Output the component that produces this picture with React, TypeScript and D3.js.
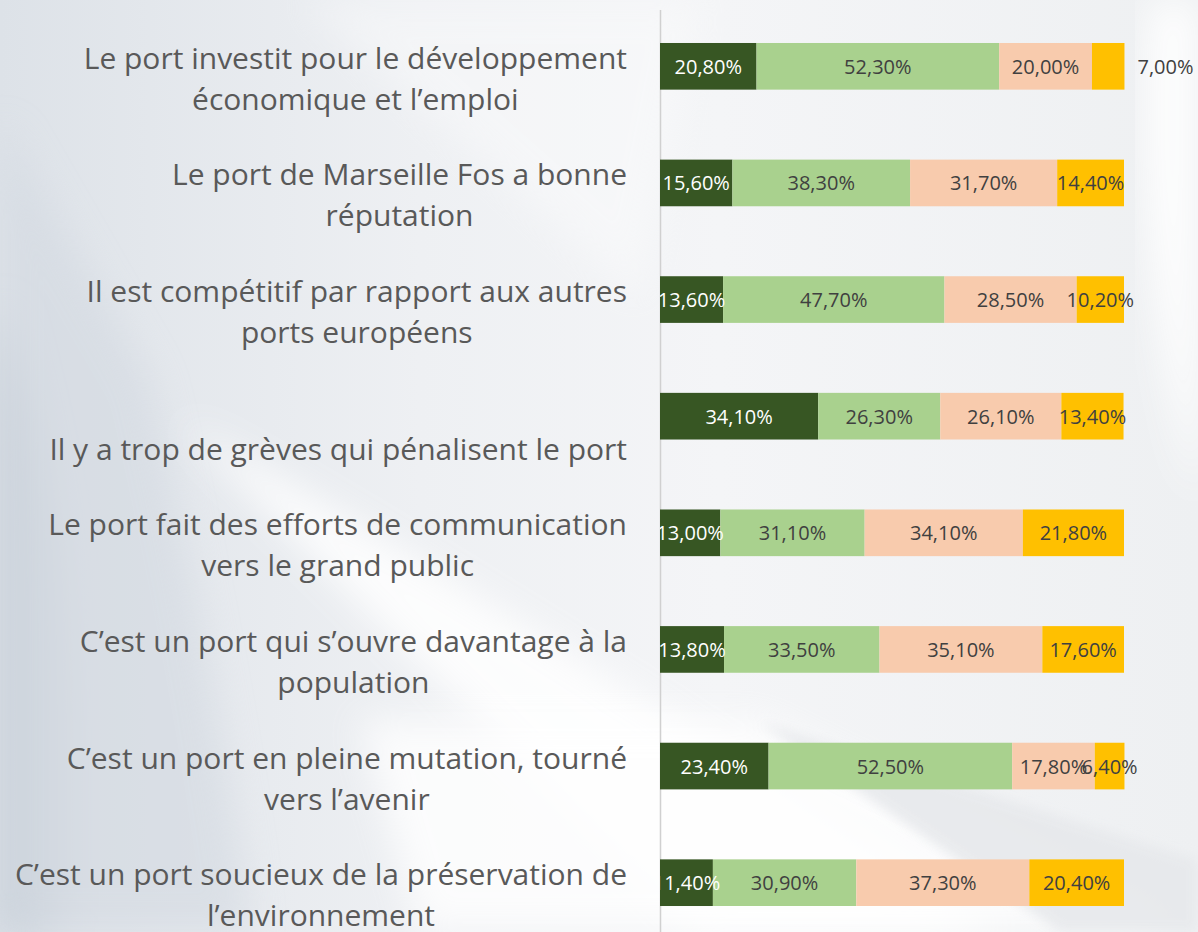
import React from "react";
import * as d3 from "d3";

const categories: string[][] = [
  ["Le port investit pour le développement", "économique et l’emploi"],
  ["Le port de Marseille Fos a bonne", "réputation"],
  ["Il est compétitif par rapport aux autres", "ports européens"],
  ["Il y a trop de grèves qui pénalisent le port"],
  ["Le port fait des efforts de communication", "vers le grand public"],
  ["C’est un port qui s’ouvre davantage à la", "population"],
  ["C’est un port en pleine mutation, tourné", "vers l’avenir"],
  ["C’est un port soucieux de la préservation de", "l’environnement"],
];

const seriesA = [20.8, 15.6, 13.6, 34.1, 13.0, 13.8, 23.4, 11.4];
const seriesB = [52.3, 38.3, 47.7, 26.3, 31.1, 33.5, 52.5, 30.9];
const seriesC = [20.0, 31.7, 28.5, 26.1, 34.1, 35.1, 17.8, 37.3];
const seriesD = [7.0, 14.4, 10.2, 13.4, 21.8, 17.6, 6.4, 20.4];

const seriesColors = ["#375623", "#A9D18E", "#F8CBAD", "#FFC000"];
const labelColors = ["#ffffff", "#404040", "#404040", "#404040"];
// labels positioned outside the bar end: [row, series]
const outsideLabels = [[0, 3]];

const W = 1198;
const H = 932;
const FONT = "'Open Sans', 'Noto Sans', sans-serif";
const CAT_FS = 30;

let ctx: CanvasRenderingContext2D | null = null;
function measure(t: string, fs: number): number {
  if (typeof document === "undefined") return t.length * fs * 0.5;
  if (!ctx) ctx = document.createElement("canvas").getContext("2d");
  if (!ctx) return t.length * fs * 0.5;
  ctx.font = `${fs}px 'Open Sans', 'Noto Sans', sans-serif`;
  return ctx.measureText(t).width;
}

export default function App() {
  const series = [seriesA, seriesB, seriesC, seriesD];
  const x = d3.scaleLinear().domain([0, 100]).range([660, 1124]);
  const y = d3
    .scaleBand<number>()
    .domain(d3.range(categories.length))
    .range([8, 941])
    .paddingInner(0.6)
    .paddingOuter(0.3);
  const bw = y.bandwidth();
  const fmt = (v: number) => v.toFixed(2).replace(".", ",") + "%";

  const rows = categories.map((_, i) => {
    let acc = 0;
    return series.map((s, k) => {
      const x0 = acc;
      acc += s[i];
      return { k, i, x0, x1: acc, v: s[i] };
    });
  });

  return (
    <svg
      width={W}
      height={H}
      style={{ position: "absolute", left: 0, top: 0 }}
      viewBox={`0 0 ${W} ${H}`}
    >
      <defs>
        <linearGradient id="bgH" x1="0" y1="0" x2="1" y2="0">
          <stop offset="0" stopColor="#dde2e8" />
          <stop offset="0.35" stopColor="#eef0f3" />
          <stop offset="0.6" stopColor="#f4f5f7" />
          <stop offset="1" stopColor="#eef0f2" />
        </linearGradient>
        <linearGradient id="leftDark" x1="0" y1="0" x2="1" y2="0">
          <stop offset="0" stopColor="#bcc6d0" stopOpacity="0.9" />
          <stop offset="1" stopColor="#bcc6d0" stopOpacity="0" />
        </linearGradient>
        <filter id="blur" x="-20%" y="-20%" width="140%" height="140%">
          <feGaussianBlur stdDeviation="18" />
        </filter>
        <filter id="blurS" x="-20%" y="-20%" width="140%" height="140%">
          <feGaussianBlur stdDeviation="6" />
        </filter>
        <clipPath id="plotClip">
          <rect x={660} y={0} width={W - 660} height={H} />
        </clipPath>
      </defs>

      {/* background */}
      <rect x={0} y={0} width={W} height={H} fill="url(#bgH)" />
      <path
        d="M0,300 C60,500 90,700 80,932 L0,932 Z"
        fill="url(#leftDark)"
        filter="url(#blur)"
      />
      <path
        d="M0,120 L150,380 C200,600 230,780 250,932 L0,932 Z"
        fill="#d3d9e1"
        opacity="0.6"
        filter="url(#blur)"
      />
      <path
        d="M180,420 C350,600 520,760 700,932 L1000,932 C800,800 500,600 180,420 Z"
        fill="#ffffff"
        opacity="0.85"
        filter="url(#blur)"
      />
      <path
        d="M360,720 L760,720 L1198,932 L420,932 Z"
        fill="#ffffff"
        opacity="0.8"
        filter="url(#blur)"
      />
      <path
        d="M760,722 L1198,860 L1198,932 L1060,932 Z"
        fill="#e7e9ec"
        opacity="0.9"
        filter="url(#blurS)"
      />
      <path
        d="M1150,0 C1135,200 1160,380 1198,500 L1198,0 Z"
        fill="#ffffff"
        opacity="0.9"
        filter="url(#blur)"
      />
      <path
        d="M300,0 L700,0 L640,300 Z"
        fill="#ffffff"
        opacity="0.35"
        filter="url(#blur)"
      />

      {/* category labels: block right-aligned, lines centred within block */}
      <g fontFamily={FONT} fontSize={CAT_FS} fill="#595959" textAnchor="middle">
        {categories.map((lines, i) => {
          const c = (y(i) as number) + bw / 2;
          const base = lines.length === 1 ? [c + 44] : [c + 2.5, c + 43.5];
          const maxW = Math.max(...lines.map((t) => measure(t, CAT_FS)));
          const cx = 627 - maxW / 2;
          return lines.map((t, j) => (
            <text key={`${i}-${j}`} x={cx} y={base[j]}>
              {t}
            </text>
          ));
        })}
      </g>

      {/* axis line */}
      <line x1={660.5} x2={660.5} y1={10} y2={H} stroke="#d0d0d0" strokeWidth={1.5} />

      {/* bars */}
      <g>
        {rows.map((segs) =>
          segs.map((s) => (
            <rect
              key={`r${s.i}-${s.k}`}
              x={x(s.x0)}
              y={y(s.i) as number}
              width={x(s.x1) - x(s.x0)}
              height={bw}
              fill={seriesColors[s.k]}
            />
          ))
        )}
      </g>

      {/* data labels */}
      <g clipPath="url(#plotClip)" fontFamily={FONT} fontSize={20}>
        {rows.map((segs) =>
          segs.map((s) => {
            const outside = outsideLabels.some((o) => o[0] === s.i && o[1] === s.k);
            const cx = outside ? x(s.x1) + 41 : (x(s.x0) + x(s.x1)) / 2;
            return (
              <text
                key={`t${s.i}-${s.k}`}
                x={cx}
                y={(y(s.i) as number) + bw / 2}
                textAnchor="middle"
                dominantBaseline="central"
                fill={outside ? "#404040" : labelColors[s.k]}
              >
                {fmt(s.v)}
              </text>
            );
          })
        )}
      </g>
    </svg>
  );
}
